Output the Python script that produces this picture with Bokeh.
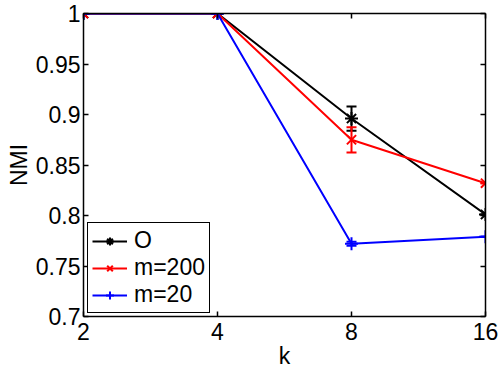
from bokeh.plotting import figure
from bokeh.models import (ColumnDataSource, Whisker, TeeHead, FixedTicker, LinearAxis,
                          LogAxis, Legend, LegendItem, CustomJSTickFormatter)
from bokeh.embed import file_html
from bokeh.resources import INLINE

k_values = [2, 4, 8, 16]
x_tick_labels = ["2", "4", "8", "16"]
y_ticks = [0.7, 0.75, 0.8, 0.85, 0.9, 0.95, 1.0]
y_tick_labels = ["0.7", "0.75", "0.8", "0.85", "0.9", "0.95", "1"]

nmi_O = [1.0, 1.0, 0.896, 0.801]
err_O = [0.0, 0.0, 0.012, 0.0]
nmi_m200 = [1.0, 1.0, 0.875, 0.832]
err_m200 = [0.0, 0.0, 0.0125, 0.0]
nmi_m20 = [1.0, 1.0, 0.772, 0.779]
err_m20 = [0.0, 0.0, 0.002, 0.0]

series = [
    ("O", nmi_O, err_O, "black", "asterisk"),
    ("m=200", nmi_m200, err_m200, "red", "x"),
    ("m=20", nmi_m20, err_m20, "blue", "cross"),
]

FONT = "Liberation Sans"
FS = "23px"

p = figure(width=498, height=371, output_backend="svg", toolbar_location=None,
           x_axis_type="log", x_range=(2, 16), y_range=(0.7, 1.0),
           min_border_left=83, min_border_right=13, min_border_top=13, min_border_bottom=55)
p.xgrid.visible = False
p.ygrid.visible = False
p.outline_line_color = None
p.background_fill_color = "white"
p.border_fill_color = "white"

items = []
for name, vals, errs, color, marker in series:
    src = ColumnDataSource(dict(x=k_values, y=vals,
                                lo=[v - e for v, e in zip(vals, errs)],
                                hi=[v + e for v, e in zip(vals, errs)]))
    w = Whisker(source=src, base="x", upper="hi", lower="lo", dimension="height",
                line_color=color, line_width=2,
                upper_head=TeeHead(size=10, line_color=color, line_width=2),
                lower_head=TeeHead(size=10, line_color=color, line_width=2))
    p.add_layout(w)
    r1 = p.line("x", "y", source=src, line_color=color, line_width=2)
    r2 = p.scatter("x", "y", source=src, marker=marker, size=13, line_color=color,
                   line_width=2)
    items.append(LegendItem(label=name, renderers=[r1, r2]))

legend = Legend(items=items, location=(4, 3), border_line_color="black",
                border_line_width=1.5, border_line_alpha=1.0,
                label_text_font=FONT, label_text_font_size=FS, label_text_color="black",
                glyph_width=35, glyph_height=20, label_height=20, spacing=0,
                padding=4, margin=0, label_standoff=7, background_fill_alpha=1)
p.add_layout(legend, "center")

def style(ax, labels=True):
    ax.axis_line_color = "black"
    ax.axis_line_width = 1.5
    ax.major_tick_line_color = "black"
    ax.major_tick_line_width = 1.5
    ax.major_tick_in = 5
    ax.major_tick_out = 0
    ax.minor_tick_line_color = None
    ax.major_label_text_font = FONT
    ax.major_label_text_font_size = FS
    ax.major_label_text_color = "black"
    ax.axis_label_text_font = FONT
    ax.axis_label_text_font_size = FS
    ax.axis_label_text_font_style = "normal"
    ax.axis_label_text_color = "black"
    if not labels:
        ax.formatter = CustomJSTickFormatter(code="return ''")
        ax.major_label_standoff = 0

xax = p.xaxis[0]
xax.ticker = FixedTicker(ticks=k_values)
xax.major_label_overrides = {k: lab for k, lab in zip(k_values, x_tick_labels)}
xax.axis_label = "k"
xax.major_label_standoff = 6
xax.axis_label_standoff = 0
style(xax)

yax = p.yaxis[0]
yax.ticker = FixedTicker(ticks=y_ticks)
yax.major_label_overrides = {t: lab for t, lab in zip(y_ticks, y_tick_labels)}
yax.axis_label = "NMI"
yax.major_label_standoff = 3
yax.axis_label_standoff = 1
style(yax)

top = LogAxis(ticker=FixedTicker(ticks=k_values))
style(top, labels=False)
p.add_layout(top, "above")
right = LinearAxis(ticker=FixedTicker(ticks=y_ticks))
style(right, labels=False)
p.add_layout(right, "right")

open("out.html", "w").write(file_html(p, INLINE))
